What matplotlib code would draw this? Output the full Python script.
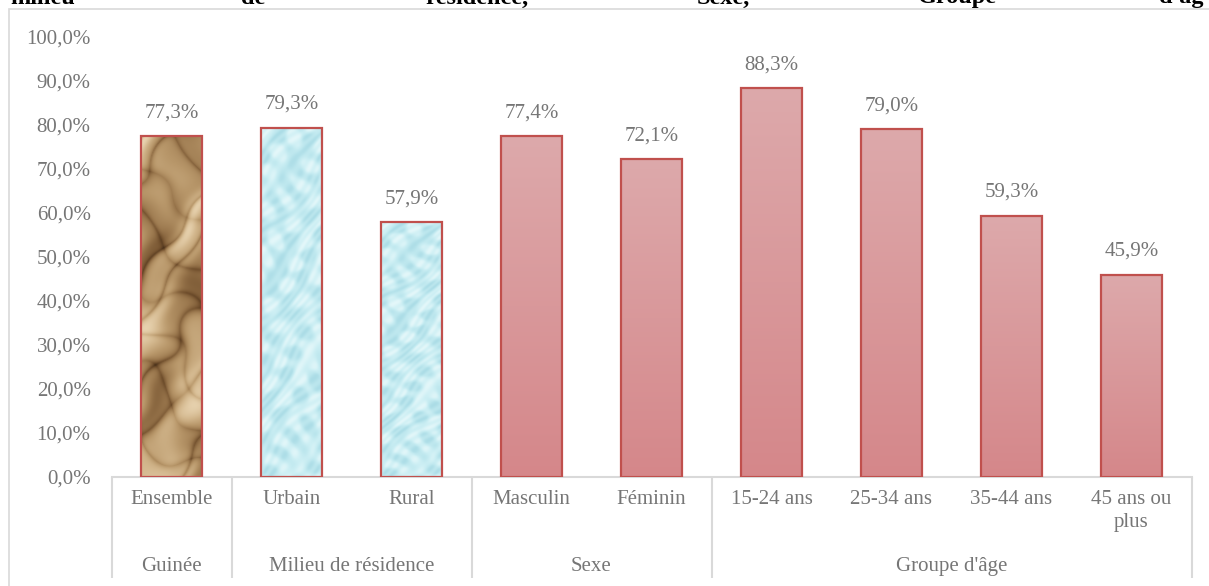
import matplotlib.pyplot as plt
import numpy as np
import matplotlib.colors as mcolors

categories = ['Ensemble', 'Urbain', 'Rural', 'Masculin', 'Féminin',
              '15-24 ans', '25-34 ans', '35-44 ans', '45 ans ou\nplus']
values = [77.3, 79.3, 57.9, 77.4, 72.1, 88.3, 79.0, 59.3, 45.9]
fills = ['paper', 'water', 'water', 'pink', 'pink', 'pink', 'pink', 'pink', 'pink']
groups = ['Guinée', 'Milieu de résidence', 'Sexe', "Groupe d'âge"]
group_spans = [(0, 0), (1, 2), (3, 4), (5, 8)]
title_words = ['milieu', 'de', 'résidence,', 'Sexe,', 'Groupe', "d'âg"]
title_x = [10, 241, 425, 697, 918, 1159]

plt.rcParams['font.family'] = ['Liberation Serif', 'DejaVu Serif']
grey = '#767676'
line_grey = '#d9d9d9'

W, H = 1209, 586
fig = plt.figure(figsize=(W / 100, H / 100), dpi=100)

# chart frame (runs past the right and bottom edges)
fig.add_artist(plt.Rectangle((9 / W, -0.1), 1.2, 1 - 9 / H + 0.1, transform=fig.transFigure,
                             fill=False, edgecolor=line_grey, linewidth=1.2))

# heading, cut off by the top edge
for word, x in zip(title_words, title_x):
    fig.text(x / W, 1 - 3.5 / H, word, fontsize=17.5, fontweight='bold', color='black',
             ha='left', va='baseline')

ax = fig.add_axes([111.5 / W, 1 - 477 / H, 1080 / W, 440.5 / H])
ax.set_xlim(-0.5, len(categories) - 0.5)
ax.set_ylim(0, 100)
for s in ['top', 'right', 'left']:
    ax.spines[s].set_visible(False)
ax.spines['bottom'].set_color(line_grey)
ax.spines['bottom'].set_linewidth(1.5)

ax.set_yticks(np.arange(0, 101, 10))
ax.set_yticklabels([f'{t:.1f}%'.replace('.', ',') for t in range(0, 101, 10)])
ax.tick_params(axis='y', length=0, pad=15, labelsize=15, labelcolor=grey)
ax.set_xticks([])


def paper_texture(ny=340, nx=60):
    yy, xx = np.mgrid[0:ny, 0:nx].astype(float)
    # warped coordinates give the crumpled look
    u = xx + 9 * np.sin(0.045 * yy + 0.05 * xx) + 4 * np.sin(0.11 * yy)
    w = yy + 14 * np.sin(0.06 * xx + 0.03 * yy) + 6 * np.sin(0.09 * xx - 0.05 * yy)
    creases = (1 - np.abs(np.sin(0.07 * u + 0.05 * w))) ** 3
    creases2 = (1 - np.abs(np.sin(-0.05 * u + 0.06 * w + 1.2))) ** 3
    shade = (0.5 * np.sin(0.09 * u + 0.035 * w + 0.7)
             + 0.35 * np.sin(0.05 * u - 0.04 * w + 2.1)
             + 0.2 * np.sin(0.15 * u + 0.1 * w))
    v = shade - 0.9 * creases - 0.6 * creases2
    v = (v - v.min()) / (v.max() - v.min())
    cmap = mcolors.LinearSegmentedColormap.from_list(
        'paper', ['#4a311a', '#74522f', '#9a774d', '#b8976a', '#d2b68c', '#e8d3b0'])
    return cmap(v)


def water_texture(ny=340, nx=60):
    yy, xx = np.mgrid[0:ny, 0:nx].astype(float)
    u = xx + 5 * np.sin(0.07 * yy)
    w = yy + 6 * np.sin(0.09 * xx + 0.02 * yy)
    drops = np.sin(0.22 * u + 0.4) * np.sin(0.16 * w) + 0.7 * np.sin(0.13 * u - 0.1 * w + 1.0) * np.sin(0.21 * w + 0.07 * u)
    v = 0.65 + 0.25 * np.tanh(1.8 * drops) + 0.08 * np.sin(0.6 * u + 0.5 * w)
    v = np.clip(v, 0, 1)
    cmap = mcolors.LinearSegmentedColormap.from_list(
        'water', ['#7cbccb', '#a4d8e3', '#bde7ee', '#cdeff4', '#e6f8fa'])
    return cmap(v)


def pink_gradient(ny=200):
    top = np.array(mcolors.to_rgb('#dda9ab'))
    bottom = np.array(mcolors.to_rgb('#d5878a'))
    t = np.linspace(0, 1, ny)[:, None]
    g = top * (1 - t) + bottom * t
    return g[:, None, :]


width = 0.51
bars = ax.bar(range(len(values)), values, width=width, facecolor='none',
              edgecolor='#c0504d', linewidth=1.6, zorder=3)
for i, (b, kind) in enumerate(zip(bars, fills)):
    if kind == 'paper':
        img = paper_texture()
    elif kind == 'water':
        img = water_texture()
    else:
        img = pink_gradient()
    x0 = b.get_x()
    im = ax.imshow(img, extent=[x0, x0 + width, 0, values[i]], aspect='auto',
                   origin='upper', zorder=2, interpolation='bilinear')
    im.set_clip_path(b)
    ax.annotate(f'{values[i]:.1f}%'.replace('.', ','), (i, values[i]),
                xytext=(0, 10), textcoords='offset points', ha='center', va='bottom',
                fontsize=15, color=grey)

ax.set_xlim(-0.5, len(categories) - 0.5)
ax.set_ylim(0, 100)

# two-level category axis
for i, c in enumerate(categories):
    ax.text(i, -3.0, c, ha='center', va='top', fontsize=15, color=grey,
            linespacing=1.3, clip_on=False)
for g, (a, b) in zip(groups, group_spans):
    ax.text((a + b) / 2, -20.3, g, ha='center', va='center', fontsize=15, color=grey,
            clip_on=False)
for xs in [-0.5, 0.5, 2.5, 4.5, 8.5]:
    ax.plot([xs, xs], [0, -22.9], color=line_grey, linewidth=1.5, clip_on=False,
            solid_capstyle='butt')

fig.savefig('out.png', dpi=100)
